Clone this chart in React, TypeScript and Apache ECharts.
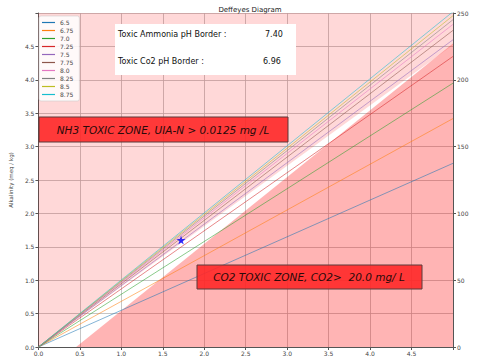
import React, { useEffect, useRef } from "react";
import * as echarts from "echarts";

// pH isolines: alkalinity (meq/kg) reached at DIC = 5 (lines from the origin)
const phLabels = ["6.5", "6.75", "7.0", "7.25", "7.5", "7.75", "8.0", "8.25", "8.5", "8.75"];
const phEndAlk = [2.75, 3.42, 3.95, 4.35, 4.6, 4.74, 4.83, 4.9, 4.96, 5.02];
const phColors = ["#1f77b4", "#ff7f0e", "#2ca02c", "#d62728", "#9467bd", "#8c564b", "#e377c2", "#7f7f7f", "#bcbd22", "#17becf"];
const xEnd = 5;

// NH3 toxic border (pH 7.40 line) and CO2 toxic border
const nh3Border = [[0, 0], [5, 4.52]];
const co2Border = [[0.4545, 0], [5, 4.545]];
const samplePoint = [[1.72, 1.6]];

const xTicks = { min: 0, max: 5, interval: 0.5 };
const yTicks = { min: 0, max: 5, interval: 0.5 };
const y2Ticks = { min: 0, max: 250, interval: 50 };

const STAR = "path://M50,0 L61,35 L98,35 L68,57 L79,91 L50,70 L21,91 L32,57 L2,35 L39,35 Z";

export default function App() {
  const ref = useRef<HTMLDivElement>(null);
  useEffect(() => {
    if (!ref.current) return;
    const chart = echarts.init(ref.current, undefined, { renderer: "svg" });
    const font = "DejaVu Sans";
    const lineSeries = phLabels.map((name, i) => ({
      name,
      type: "line",
      data: [[0, 0], [xEnd, phEndAlk[i]]],
      showSymbol: false,
      symbol: "none",
      color: phColors[i],
      lineStyle: { width: 1, color: phColors[i], opacity: 0.55 },
      z: 3,
    }));
    chart.setOption({
      animation: false,
      textStyle: { fontFamily: font },
      title: {
        text: "Deffeyes Diagram",
        left: 245,
        textAlign: "center",
        top: 1,
        textStyle: { fontSize: 7, fontWeight: "normal", color: "#222", fontFamily: font },
      },
      grid: { left: 37, right: 32, top: 13, bottom: 13, containLabel: false },
      legend: {
        data: phLabels,
        orient: "vertical",
        left: 39,
        top: 16,
        icon: "rect",
        itemWidth: 13,
        itemHeight: 1.2,
        itemGap: 1,
        padding: [3, 6, 3, 3],
        backgroundColor: "rgba(255,255,255,0.85)",
        borderColor: "#cccccc",
        borderWidth: 0.6,
        borderRadius: 2,
        inactiveColor: "#ccc",
        textStyle: { fontSize: 6, color: "#444", fontFamily: font, lineHeight: 7 },
      },
      xAxis: {
        type: "value",
        ...xTicks,
        axisLine: { lineStyle: { color: "#555", width: 1 } },
        axisTick: { show: true, length: 3, lineStyle: { color: "#555" } },
        axisLabel: {
          fontSize: 6,
          color: "#444",
          margin: 3,
          formatter: (v: number) => (v >= 5 ? "" : v.toFixed(1)),
        },
        splitLine: { show: true, lineStyle: { color: "#b8b8b8", width: 0.8 } },
      },
      yAxis: [
        {
          type: "value",
          ...yTicks,
          name: "Alkalinity (meq / kg)",
          nameLocation: "middle",
          nameGap: 24,
          nameTextStyle: { fontSize: 5.5, color: "#444" },
          axisLine: { show: true, lineStyle: { color: "#555", width: 1 } },
          axisTick: { show: true, length: 3, lineStyle: { color: "#555" } },
          axisLabel: {
            fontSize: 6,
            color: "#444",
            margin: 4,
            formatter: (v: number) => (v >= 5 ? "" : v.toFixed(1)),
          },
          splitLine: { show: true, lineStyle: { color: "#b8b8b8", width: 0.8 } },
        },
        {
          type: "value",
          ...y2Ticks,
          position: "right",
          axisLine: { show: true, lineStyle: { color: "#555", width: 1 } },
          axisTick: { show: true, length: 3, lineStyle: { color: "#555" } },
          axisLabel: { fontSize: 6, color: "#444", margin: 4 },
          splitLine: { show: false },
        },
      ],
      series: [
        {
          name: "nh3zone",
          type: "line",
          data: nh3Border,
          showSymbol: false,
          symbol: "none",
          lineStyle: { width: 0 },
          areaStyle: { origin: "end", color: "rgba(255,0,0,0.22)" },
          z: 1,
          silent: true,
        },
        {
          name: "co2zone",
          type: "line",
          data: co2Border,
          showSymbol: false,
          symbol: "none",
          lineStyle: { width: 0 },
          areaStyle: { origin: "start", color: "rgba(255,0,0,0.42)" },
          z: 1,
          silent: true,
        },
        ...lineSeries,
        {
          name: "sample",
          type: "scatter",
          data: samplePoint,
          symbol: STAR,
          symbolSize: 9,
          itemStyle: { color: "#0000ff" },
          z: 5,
        },
      ],
      graphic: [
        {
          type: "rect",
          shape: { x: 115, y: 24, width: 181, height: 51 },
          style: { fill: "#ffffff", stroke: "none" },
          z: 10,
        },
        {
          type: "text",
          x: 118,
          y: 34,
          style: { text: "Toxic Ammonia pH Border :", fontSize: 8, fill: "#111", fontFamily: font, verticalAlign: "middle" },
          z: 11,
        },
        {
          type: "text",
          x: 265,
          y: 34,
          style: { text: "7.40", fontSize: 8, fill: "#111", fontFamily: font, verticalAlign: "middle" },
          z: 11,
        },
        {
          type: "text",
          x: 118,
          y: 61,
          style: { text: "Toxic Co2 pH Border :", fontSize: 8, fill: "#111", fontFamily: font, verticalAlign: "middle" },
          z: 11,
        },
        {
          type: "text",
          x: 263,
          y: 61,
          style: { text: "6.96", fontSize: 8, fill: "#111", fontFamily: font, verticalAlign: "middle" },
          z: 11,
        },
        {
          type: "rect",
          shape: { x: 39, y: 117, width: 249, height: 25 },
          style: { fill: "rgba(255,40,40,0.9)", stroke: "#5a3a3a", lineWidth: 1 },
          z: 10,
        },
        {
          type: "text",
          x: 163,
          y: 130,
          style: {
            text: "NH3 TOXIC ZONE, UIA-N > 0.0125 mg /L",
            fontSize: 10.5,
            fontStyle: "italic",
            fill: "#2a0a0a",
            fontFamily: font,
            align: "center",
            verticalAlign: "middle",
          },
          z: 11,
        },
        {
          type: "rect",
          shape: { x: 197, y: 265, width: 225, height: 24 },
          style: { fill: "rgba(255,40,40,0.9)", stroke: "#5a3a3a", lineWidth: 1 },
          z: 10,
        },
        {
          type: "text",
          x: 309,
          y: 277,
          style: {
            text: "CO2 TOXIC ZONE, CO2>  20.0 mg/ L",
            fontSize: 10.5,
            fontStyle: "italic",
            fill: "#2a0a0a",
            fontFamily: font,
            align: "center",
            verticalAlign: "middle",
          },
          z: 11,
        },
      ],
    });
    return () => chart.dispose();
  }, []);
  return <div ref={ref} style={{ width: 485, height: 360, position: "absolute", left: 0, top: 0 }} />;
}
